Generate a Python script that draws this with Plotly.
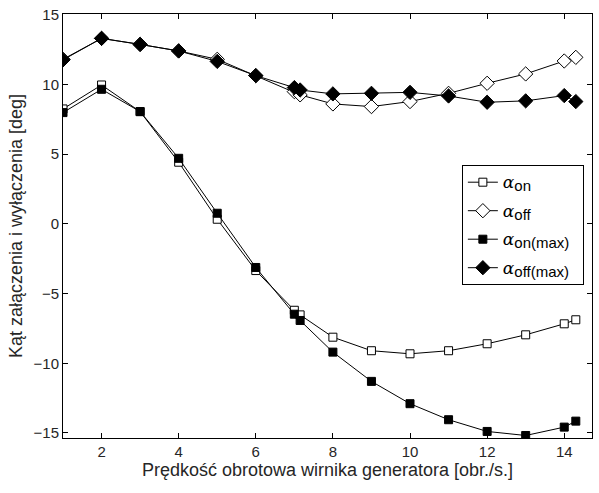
import plotly.graph_objects as go

x = [1, 2, 3, 4, 5, 6, 7, 7.15, 8, 9, 10, 11, 12, 13, 14, 14.3]
alpha_on = [8.24, 9.96, 8.05, 4.42, 0.33, -3.35, -6.2, -6.53, -8.13, -9.1, -9.32, -9.1, -8.6, -7.96, -7.17, -6.88]
alpha_off = [11.8, 13.3, 12.87, 12.4, 11.8, 10.63, 9.48, 9.25, 8.6, 8.41, 8.77, 9.36, 10.08, 10.75, 11.68, 11.94]
alpha_on_max = [7.98, 9.65, 8.05, 4.7, 0.76, -3.13, -6.48, -6.93, -9.2, -11.3, -12.9, -14.05, -14.89, -15.18, -14.58, -14.15]
alpha_off_max = [11.76, 13.3, 12.87, 12.4, 11.65, 10.63, 9.77, 9.6, 9.32, 9.36, 9.43, 9.17, 8.72, 8.82, 9.2, 8.77]

x_ticks = [2, 4, 6, 8, 10, 12, 14]
y_ticks = [-15, -10, -5, 0, 5, 10, 15]

alpha = '<span style="font-family:\'DejaVu Serif\', serif;font-size:17px"><i>α</i></span>'
def sub(t):
    return '<sub><span style="font-size:15px">' + t + '</span></sub>'
names = [alpha + sub("on"), alpha + sub("off"), alpha + sub("on(max)"), alpha + sub("off(max)") + "  "]
series = [alpha_on, alpha_off, alpha_on_max, alpha_off_max]
symbols = ["square", "diamond", "square", "diamond"]
fills = ["white", "white", "black", "black"]
sizes = [8, 11, 8, 11]

fig = go.Figure()
for i, (nm, ys, sym, fc, sz) in enumerate(zip(names, series, symbols, fills, sizes)):
    fig.add_trace(go.Scatter(
        x=x, y=ys, name=nm, mode="lines+markers",
        line=dict(color="black", width=1),
        marker=dict(symbol=sym, size=sz, color=fc, line=dict(color="black", width=1)),
        legendgroup=str(i),
    ))

fig.update_layout(
    width=599, height=493,
    margin=dict(l=63, r=7, t=14, b=55),
    paper_bgcolor="white", plot_bgcolor="white",
    font=dict(family="Liberation Sans, Arial, sans-serif", size=15, color="#262626"),
    showlegend=True,
    legend=dict(x=0.754, y=0.644, xanchor="left", yanchor="top",
                bordercolor="black", borderwidth=1, bgcolor="white",
                font=dict(size=15, color="black"), tracegroupgap=6),
    xaxis=dict(range=[1, 14.72], tickvals=x_ticks, ticks="inside", ticklen=5,
               showline=True, linecolor="black", linewidth=1, mirror="ticks",
               showgrid=False, zeroline=False, tickcolor="black", automargin=False,
               title=dict(text="Prędkość obrotowa wirnika generatora [obr./s.]",
                          font=dict(size=18), standoff=4)),
    yaxis=dict(range=[-15.36, 15.05], tickvals=y_ticks, ticks="inside", ticklen=5,
               showline=True, linecolor="black", linewidth=1, mirror="ticks",
               showgrid=False, zeroline=False, tickcolor="black", automargin=False,
               title=dict(text="Kąt załączenia i wyłączenia [deg]",
                          font=dict(size=18), standoff=6)),
)

fig.write_html("out.html", config={"displayModeBar": False},
               post_script="document.body.style.margin='0';document.body.style.overflow='hidden';")
